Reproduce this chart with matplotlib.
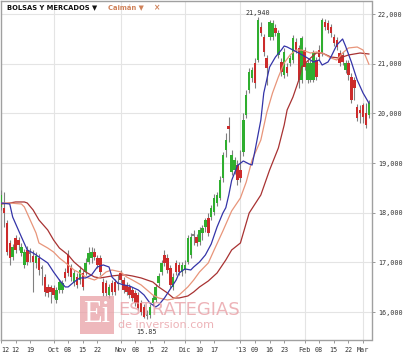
import matplotlib
matplotlib.use("Agg")
import matplotlib.pyplot as plt
from matplotlib.patches import Rectangle
from matplotlib.ticker import FuncFormatter, FixedLocator

# ---------------- data ----------------
opens = [18115, 18095, 17793, 17390, 17108, 17491, 17451, 17189, 16948, 17249,
         17209, 17129, 16988, 17088, 16907, 16706, 16505, 16505, 16484, 16243,
         16444, 16444, 16807, 17149, 16887, 16585, 16706, 16645, 16786, 16807,
         17008, 17088, 17209, 17088, 17088, 16605, 16585, 16344, 16585, 16605,
         16605, 16786, 16645, 16545, 16505, 16444, 16384, 16343, 16182, 16102,
         15961, 15941, 16182, 16243, 16585, 16807, 17149, 17088, 16887, 16505,
         16988, 16948, 16807, 16847, 17008, 17149, 17571, 17511, 17410, 17591,
         17712, 17893, 17913, 18014, 18196, 18296, 18699, 19262, 19745, 18820,
         18860, 18960, 18860, 19222, 19967, 20470, 20712, 21014, 21074, 21738,
         21537, 21114, 21537, 21537, 21718, 21175, 21034, 20772, 20933, 21014,
         21074, 21436, 21316, 20671, 21275, 20671, 20671, 20671, 21074, 21275,
         21215, 21839, 21819, 21738, 21537, 21477, 21215, 21175, 20873, 21014,
         20732, 20671, 20128, 20068, 20169, 20008, 19967]
closes = [18357, 17995, 17209, 17088, 17310, 17249, 17350, 17310, 17209, 17008,
          17169, 17008, 17129, 16847, 16867, 16404, 16384, 16404, 16344, 16444,
          16605, 16585, 16686, 16786, 16706, 16786, 16545, 16847, 16505, 16988,
          17189, 17209, 17108, 16948, 16807, 16384, 16384, 16505, 16404, 16404,
          16565, 16645, 16444, 16404, 16344, 16283, 16182, 16082, 16001, 15901,
          15921, 16102, 16283, 16505, 16726, 16988, 16988, 16847, 16545, 16706,
          16807, 16807, 16948, 16948, 17491, 17511, 17531, 17390, 17652, 17692,
          17853, 17591, 18095, 18296, 18357, 18658, 19162, 19464, 19685, 19162,
          19061, 18658, 18699, 19866, 20370, 20833, 20873, 20611, 21879, 21618,
          21235, 20913, 21839, 21819, 21618, 21618, 20833, 21235, 20812, 21114,
          21517, 21275, 20671, 21517, 20933, 21014, 21014, 21215, 20732, 21134,
          21879, 21738, 21678, 21618, 21416, 21336, 21014, 21034, 21014, 20772,
          20269, 20510, 19907, 20008, 19927, 19766, 20209]
highs = [18457, 18417, 17853, 17451, 17370, 17551, 17511, 17390, 17269, 17330,
         17289, 17249, 17209, 17169, 16948, 16766, 16565, 16545, 16545, 16505,
         16666, 16645, 16887, 17249, 16968, 16847, 16786, 16928, 16847, 17088,
         17310, 17310, 17289, 17149, 17149, 16686, 16645, 16565, 16645, 16666,
         16746, 16847, 16706, 16605, 16565, 16505, 16444, 16404, 16243, 16162,
         16042, 16162, 16343, 16565, 16786, 17048, 17249, 17169, 16948, 16786,
         17048, 17008, 17008, 17048, 17551, 17591, 17652, 17571, 17712, 17753,
         17893, 17994, 18155, 18377, 18417, 18739, 19222, 19605, 19927, 19262,
         19121, 19061, 19262, 20007, 20470, 20913, 20933, 21114, 21940, 21839,
         21597, 21175, 21879, 21879, 21799, 21678, 21114, 21316, 21014, 21175,
         21577, 21517, 21376, 21557, 21336, 21074, 21074, 21275, 21134, 21376,
         21919, 21899, 21879, 21799, 21597, 21537, 21275, 21235, 21074, 21074,
         20812, 20732, 20188, 20169, 20208, 20208, 20269]
lows = [18055, 17712, 17149, 16948, 17048, 17189, 17249, 17129, 16887, 16948,
        17008, 16404, 16887, 16746, 16545, 16323, 16303, 16182, 16283, 16182,
        16384, 16384, 16625, 16726, 16625, 16525, 16484, 16565, 16444, 16746,
        16968, 16988, 17048, 16887, 16746, 16323, 16323, 16283, 16343, 16343,
        16444, 16585, 16384, 16343, 16283, 16223, 16122, 16042, 15941, 15880,
        15850, 15880, 16122, 16203, 16525, 16746, 16928, 16786, 16484, 16444,
        16746, 16746, 16726, 16786, 16968, 17088, 17350, 17330, 17350, 17451,
        17612, 17531, 17853, 17954, 18135, 18256, 18618, 19121, 19423, 18759,
        18779, 18558, 18618, 19142, 19907, 20410, 20631, 20510, 21034, 21557,
        21155, 20571, 21477, 21477, 21557, 21114, 20752, 20712, 20752, 20953,
        21014, 21215, 20510, 20611, 20873, 20611, 20631, 20631, 20671, 21074,
        21155, 21678, 21618, 21537, 21356, 21275, 20953, 20973, 20812, 20671,
        20208, 20269, 19846, 19806, 19806, 19705, 19907]

# moving averages (candle index, value)
ma_fast_idx = [0, 3, 4, 7, 9, 11, 13, 16, 18, 20, 22, 23, 25, 27, 29, 31, 33, 35, 37, 38,
               40, 42, 44, 47, 49, 51, 53, 54, 56, 58, 60, 61, 63, 65, 66, 68, 70, 72, 74,
               76, 77, 78, 79, 81, 83, 85, 86, 87, 89, 90, 92, 94, 96, 97, 98, 100, 102,
               105, 107, 109, 110, 112, 113, 115, 117, 118, 120, 122, 124, 126]
ma_fast = [18195, 18175, 17913, 17511, 17249, 17189, 17108, 16988, 16807, 16645, 16505,
           16505, 16605, 16686, 16686, 16746, 16907, 16948, 16907, 16706, 16585, 16545,
           16525, 16444, 16343, 16182, 16102, 16142, 16283, 16464, 16645, 16786, 16867,
           16847, 16907, 17008, 17149, 17370, 17712, 17994, 18100, 18350, 18650, 18950,
           19041, 18980, 18960, 19250, 19866, 20410, 20933, 21134, 21275, 21356, 21336,
           21275, 21215, 21114, 21034, 21074, 20973, 21034, 21134, 21376, 21497, 21356,
           21034, 20671, 20410, 20208]
ma_mid_idx = [0, 3, 7, 8, 10, 12, 13, 16, 18, 20, 23, 25, 27, 29, 32, 34, 36, 38, 41, 43,
              45, 48, 50, 52, 54, 57, 59, 61, 64, 66, 68, 71, 73, 76, 79, 82, 84, 86, 89,
              91, 93, 95, 97, 99, 101, 103, 106, 108, 110, 113, 115, 117, 119, 122, 124, 126]
ma_mid = [18195, 18195, 18175, 18115, 17853, 17591, 17390, 17289, 17209, 17088, 16948,
          16847, 16786, 16706, 16645, 16706, 16807, 16847, 16807, 16706, 16645, 16545,
          16444, 16343, 16283, 16243, 16263, 16343, 16505, 16645, 16807, 16988, 17249,
          17632, 18035, 18296, 18618, 19061, 19464, 20007, 20410, 20732, 21014, 21175,
          21275, 21275, 21215, 21235, 21215, 21114, 21074, 21215, 21316, 21336, 21275, 20990]
ma_slow_idx = [0, 3, 5, 8, 9, 11, 13, 16, 18, 20, 23, 25, 27, 29, 32, 34, 36, 38, 41, 43,
               45, 48, 50, 52, 54, 57, 59, 61, 64, 66, 68, 71, 74, 77, 79, 82, 84, 85, 89,
               92, 95, 97, 98, 100, 102, 103, 106, 108, 110, 113, 116, 119, 123, 126]
ma_slow = [18175, 18195, 18216, 18216, 18195, 18055, 17853, 17652, 17451, 17289, 17149,
           17008, 16907, 16807, 16706, 16686, 16706, 16726, 16746, 16746, 16726, 16686,
           16645, 16605, 16505, 16384, 16283, 16283, 16323, 16404, 16505, 16625, 16786,
           17048, 17249, 17390, 17793, 17994, 18357, 18860, 19303, 19766, 20068, 20329,
           20671, 20933, 21114, 21215, 21215, 21134, 21114, 21175, 21215, 21195]

tick_idx = [0, 5, 10, 18, 23, 28, 33, 41, 46, 51, 56, 63, 68, 73, 82, 87, 92, 97,
            104, 109, 114, 119, 124]
tick_labels = ["12", "12", "19", "Oct", "08", "15", "22", "Nov", "08", "15", "22",
               "Dic", "10", "17", "'13", "09", "16", "23", "Feb", "08", "15", "22", "Mar"]
month_idx = [18, 41, 63, 82, 104, 124]
y_ticks = [16000, 17000, 18000, 19000, 20000, 21000, 22000]

# ---------------- figure ----------------
W, H = 420, 364
fig = plt.figure(figsize=(W / 100, H / 100), dpi=100)
fig.patch.set_facecolor("white")
ax = fig.add_axes([0.5 / W, (H - 339.5) / H, 371 / W, (339.5 - 1) / H])
ax.set_xlim(-0.17, 126.9)
ax.set_ylim(15447, 22262)

GREEN = "#2fae2f"
RED = "#cc2b2b"
GRAY = "#808080"
n = len(opens)
xs = list(range(n))
ax.vlines(xs, lows, highs, colors=GRAY, linewidth=0.8, zorder=3)
cols = []
for o, c in zip(opens, closes):
    if abs(c - o) < 45:
        cols.append(GRAY)
    elif c > o:
        cols.append(GREEN)
    else:
        cols.append(RED)
bottoms = [min(o, c) for o, c in zip(opens, closes)]
heights = [max(abs(c - o), 25) for o, c in zip(opens, closes)]
ax.bar(xs, heights, bottom=bottoms, width=0.85, color=cols, linewidth=0, zorder=4)

ax.plot(ma_slow_idx, ma_slow, color="#a83232", lw=0.9, zorder=5)
ax.plot(ma_mid_idx, ma_mid, color="#e8957a", lw=0.9, zorder=5)
ax.plot(ma_fast_idx, ma_fast, color="#3434a8", lw=0.9, zorder=6)

# grid
for yv in y_ticks:
    ax.axhline(yv, color="#e4e4e4", lw=0.8, zorder=0)
for mv in month_idx:
    ax.axvline(mv, color="#e4e4e4", lw=0.8, zorder=0)

# axes styling
for s in ax.spines.values():
    s.set_color("#a0a0a0")
    s.set_linewidth(1.0)
ax.yaxis.tick_right()
ax.set_yticks(y_ticks)
ax.yaxis.set_major_formatter(FuncFormatter(lambda v, p: f"{v:,.0f}"))
ax.xaxis.set_major_locator(FixedLocator(tick_idx))
ax.set_xticklabels(tick_labels)
ax.tick_params(axis="y", length=2.5, width=0.6, color="#888888", pad=2,
               labelsize=4.9, labelcolor="#333333")
ax.tick_params(axis="x", length=2.5, width=0.6, color="#888888", pad=3,
               labelsize=4.9, labelcolor="#333333")
for lab in ax.get_xticklabels() + ax.get_yticklabels():
    lab.set_family("DejaVu Sans Mono")
ax.get_xticklabels()[0].set_horizontalalignment("left")

# annotations for max/min
imax = max(range(n), key=lambda i: highs[i])
imin = min(range(n), key=lambda i: lows[i])
ax.annotate(f"{highs[imax]:,.0f}", (imax, highs[imax]), xytext=(0, 0.5),
            textcoords="offset points", ha="center", va="bottom", fontsize=4.9,
            family="DejaVu Sans Mono", color="#333333", zorder=8)
ax.annotate(f"{lows[imin] / 1000:.2f}", (imin, lows[imin]), xytext=(0, -7),
            textcoords="offset points", ha="center", va="top", fontsize=4.9,
            family="DejaVu Sans Mono", color="#333333", zorder=8)

# header
fig.text(7 / W, 1 - 7.5 / H, "BOLSAS Y MERCADOS \u25BC", fontsize=4.9, weight="bold",
         color="#111111", va="center", ha="left")
fig.text(108 / W, 1 - 7.5 / H, "Caimán \u25BC", fontsize=4.9, weight="bold",
         color="#d0825a", va="center", ha="left")
fig.text(153 / W, 1 - 7.5 / H, "\u00D7", fontsize=5.5, weight="bold",
         color="#d0825a", va="center", ha="left")

# watermark
fig.patches.append(Rectangle((80 / W, 1 - 334 / H), 34 / W, 38 / H,
                             transform=fig.transFigure, facecolor="#e9a0a6",
                             alpha=0.75, edgecolor="none", zorder=20))
fig.text(97 / W, 1 - 315 / H, "Ei", fontsize=22, family="Liberation Serif",
         color="white", ha="center", va="center", zorder=21)
fig.text(118 / W, 1 - 310 / H, "ESTRATEGIAS", fontsize=13, color="#e9a0a6",
         alpha=0.8, ha="left", va="center", zorder=21)
fig.text(118 / W, 1 - 325 / H, "de inversion.com", fontsize=8, color="#e9a0a6",
         alpha=0.8, ha="left", va="center", zorder=21)

fig.savefig("out.png", dpi=100, facecolor="white")
